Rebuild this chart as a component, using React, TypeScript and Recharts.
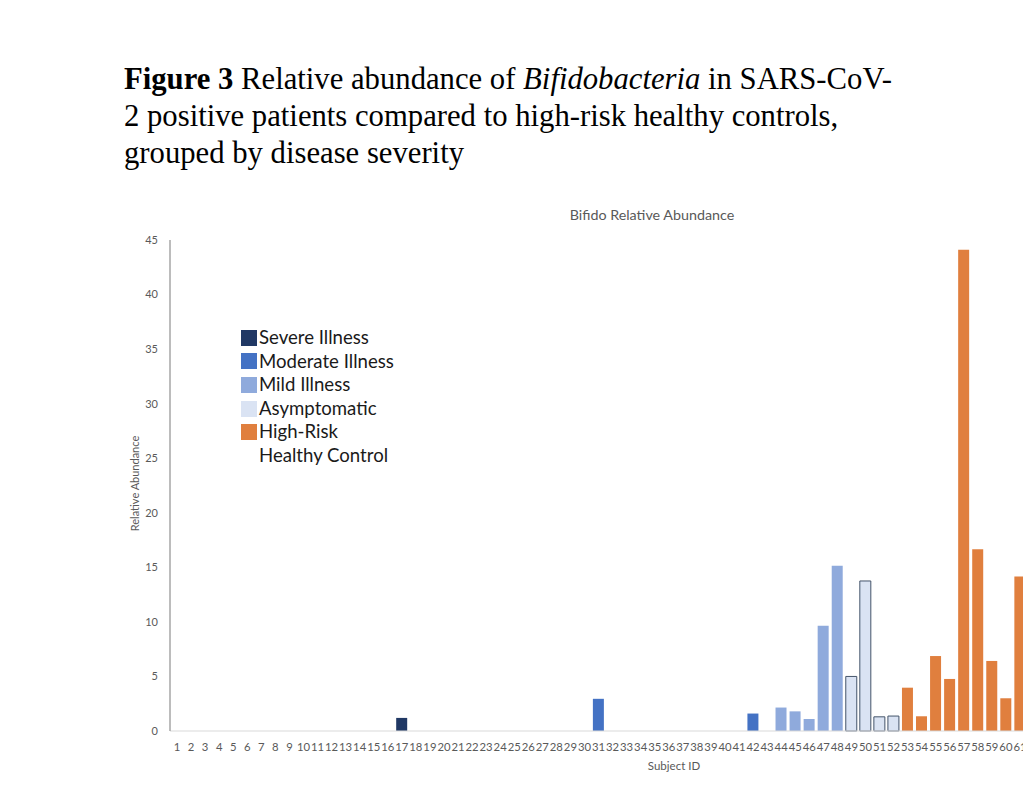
import React from "react";
import { BarChart, Bar, XAxis, YAxis, Cell } from "recharts";

const subjectIds: string[] = Array.from({ length: 61 }, (_, i) => String(i + 1));

// Relative abundance per subject (1..61)
const abundance: number[] = [
  0, 0, 0, 0, 0, 0, 0, 0, 0, 0,
  0, 0, 0, 0, 0, 0, 1.2, 0, 0, 0,
  0, 0, 0, 0, 0, 0, 0, 0, 0, 0,
  2.95, 0, 0, 0, 0, 0, 0, 0, 0, 0,
  0, 1.6, 0, 2.15, 1.8, 1.1, 9.65, 15.15, 5.0, 13.75,
  1.3, 1.37, 3.97, 1.35, 6.87, 4.77, 44.1, 16.65, 6.42, 3.0,
  14.15,
];

// group per subject: S=Severe, M=Moderate, L=Mild, A=Asymptomatic, H=High-risk control
const groups: string[] = [
  ...Array(17).fill("S"),
  ...Array(25).fill("M"),
  "L", "L", "L", "L", "L", "L",
  "A", "A", "A", "A",
  "H", "H", "H", "H", "H", "H", "H", "H", "H",
];

const legendNames: string[] = ["Severe Illness", "Moderate Illness", "Mild Illness", "Asymptomatic", "High-Risk"];
const legendKeys: string[] = ["S", "M", "L", "A", "H"];
const yTicks: number[] = [0, 5, 10, 15, 20, 25, 30, 35, 40, 45];

const fills: Record<string, string> = {
  S: "#203864",
  M: "#4472C4",
  L: "#8FAADC",
  A: "#DAE3F3",
  H: "#E07F3E",
};
const strokes: Record<string, string> = {
  S: "none",
  M: "none",
  L: "none",
  A: "#44546A",
  H: "none",
};

const data = subjectIds.map((id, i) => ({ id, value: abundance[i], group: groups[i] }));

const chartFont = "Lato, 'Open Sans', sans-serif";

export default function App() {
  return (
    <div style={{ position: "fixed", left: 0, top: 0, width: 1023, height: 812, overflow: "hidden", background: "#fff" }}>
      <div
        style={{
          position: "absolute",
          left: 124,
          top: 61,
          fontFamily: "'Liberation Serif', 'Times New Roman', serif",
          fontSize: 30.7,
          lineHeight: "37px",
          color: "#000",
          whiteSpace: "nowrap",
        }}
      >
        <b>Figure 3</b> Relative abundance of <i>Bifidobacteria</i> in SARS-CoV-
        <br />
        2 positive patients compared to high-risk healthy controls,
        <br />
        grouped by disease severity
      </div>

      <div
        style={{
          position: "absolute",
          left: 552,
          top: 206,
          width: 200,
          textAlign: "center",
          fontFamily: chartFont,
          fontSize: 14.3,
          color: "#595959",
        }}
      >
        Bifido Relative Abundance
      </div>

      <div
        style={{
          position: "absolute",
          left: 574,
          top: 759,
          width: 200,
          textAlign: "center",
          fontFamily: chartFont,
          fontSize: 11.5,
          color: "#595959",
        }}
      >
        Subject ID
      </div>

      <div
        style={{
          position: "absolute",
          left: 34,
          top: 477,
          width: 200,
          textAlign: "center",
          transform: "rotate(-90deg)",
          fontFamily: chartFont,
          fontSize: 11,
          color: "#595959",
        }}
      >
        Relative Abundance
      </div>

      <div style={{ position: "absolute", left: 0, top: 0 }}>
        <BarChart
          width={1108}
          height={798}
          data={data}
          margin={{ top: 240, right: 81, bottom: 37, left: 130 }}
          barCategoryGap="10%"
        >
          <XAxis
            dataKey="id"
            interval={0}
            tickLine={false}
            axisLine={{ stroke: "#D9D9D9" }}
            height={30}
            tick={{ fontFamily: chartFont, fontSize: 11.3, fill: "#595959" }}
            tickMargin={6}
          />
          <YAxis
            domain={[0, 45]}
            ticks={yTicks}
            interval={0}
            width={40}
            tickLine={false}
            axisLine={{ stroke: "#A6A6A6", strokeWidth: 1.5 }}
            tick={{ fontFamily: chartFont, fontSize: 11, fill: "#595959" }}
            tickMargin={6}
          />
          <Bar dataKey="value" isAnimationActive={false}>
            {data.map((d, i) => (
              <Cell key={i} fill={fills[d.group]} stroke={strokes[d.group]} strokeWidth={1} />
            ))}
          </Bar>
        </BarChart>
      </div>

      <div
        style={{
          position: "absolute",
          left: 241,
          top: 326,
          fontFamily: chartFont,
          fontSize: 18.6,
          lineHeight: "23.6px",
          color: "#1a1a1a",
        }}
      >
        {legendKeys.map((k, i) => (
          <div key={k} style={{ display: "flex", alignItems: "center" }}>
            <span
              style={{
                display: "inline-block",
                width: 16,
                height: 16,
                background: fills[k],
                marginRight: 2,
              }}
            />
            <span>{legendNames[i]}</span>
          </div>
        ))}
        <div style={{ paddingLeft: 18 }}>Healthy Control</div>
      </div>
    </div>
  );
}
